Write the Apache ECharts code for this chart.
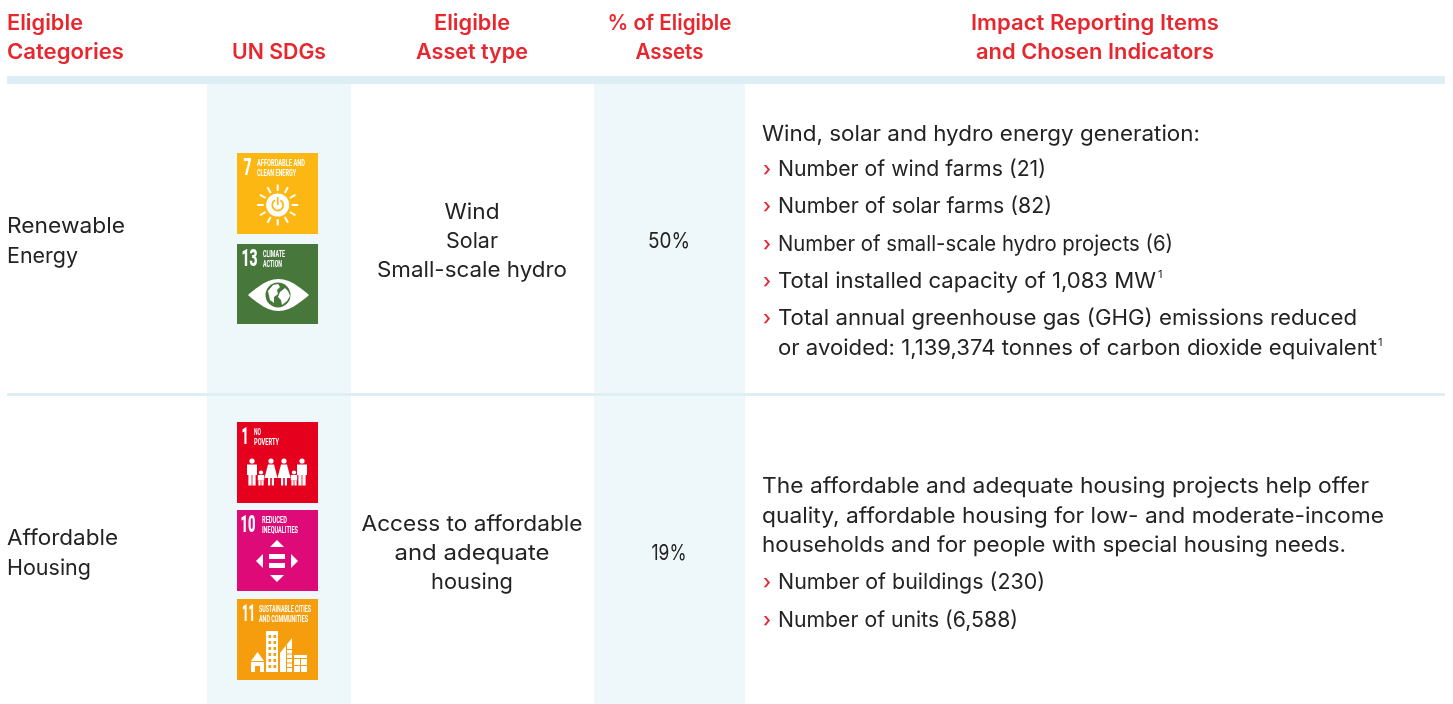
<!DOCTYPE html>
<html>
<head>
<meta charset="utf-8">
<title>Eligible categories</title>
<script src="https://cdn.jsdelivr.net/npm/echarts@6/dist/echarts.min.js"></script>
<style>
	html, body { margin: 0; background: #fff; }
	#chart { width: 1453px; height: 704px; }
</style>
</head>
<body>
<div id="chart"></div>
<script>
// Table content
const headers = [
	['Eligible', 'Categories'],
	['UN SDGs'],
	['Eligible', 'Asset type'],
	['% of Eligible', 'Assets'],
	['Impact Reporting Items', 'and Chosen Indicators'],
]
const categories = [['Renewable', 'Energy'], ['Affordable', 'Housing']]
const assetTypes = [['Wind', 'Solar', 'Small-scale hydro'], ['Access to affordable', 'and adequate', 'housing']]
const assetShares = ['50%', '19%']
const renewableIntro = ['Wind, solar and hydro energy generation:']
const renewableItems = [
	['Number of wind farms (21)'],
	['Number of solar farms (82)'],
	['Number of small-scale hydro projects (6)'],
	['Total installed capacity of 1,083 MW'],
	['Total annual greenhouse gas (GHG) emissions reduced', 'or avoided: 1,139,374 tonnes of carbon dioxide equivalent'],
]
const housingIntro = [
	'The affordable and adequate housing projects help offer',
	'quality, affordable housing for low- and moderate-income',
	'households and for people with special housing needs.',
]
const housingItems = [['Number of buildings (230)'], ['Number of units (6,588)']]
const sdgNumbers = ['7', '13', '1', '10', '11']
const sdgLabels = [
	['AFFORDABLE AND', 'CLEAN ENERGY'],
	['CLIMATE', 'ACTION'],
	['NO', 'POVERTY'],
	['REDUCED', 'INEQUALITIES'],
	['SUSTAINABLE CITIES', 'AND COMMUNITIES'],
]

const FONT = 'Inter, sans-serif'
const TILE_FONT = 'Roboto, sans-serif'
const RED = '#e8262e'
const INK = '#232323'
const BAND = '#eef7fa'
const RULE = '#deeef5'
const BODY_SIZE = 21.5

// Widths, the closest installed font runs wider or narrower line by line
const lineWidths = {
	'Eligible': 76, 'Categories': 117, 'UN SDGs': 94, 'Asset type': 112, '% of Eligible': 124, 'Assets': 68,
	'Impact Reporting Items': 248, 'and Chosen Indicators': 238,
	'Renewable': 118, 'Energy': 71, 'Affordable': 111, 'Housing': 84,
	'Wind': 55, 'Solar': 52, 'Small-scale hydro': 190, 'Access to affordable': 221, 'and adequate': 155, 'housing': 82,
	'50%': 42, '19%': 35,
	'Wind, solar and hydro energy generation:': 438,
	'Number of wind farms (21)': 268,
	'Number of solar farms (82)': 274,
	'Number of small-scale hydro projects (6)': 395,
	'Total installed capacity of 1,083 MW': 378,
	'Total annual greenhouse gas (GHG) emissions reduced': 579,
	'or avoided: 1,139,374 tonnes of carbon dioxide equivalent': 599,
	'The affordable and adequate housing projects help offer': 607,
	'quality, affordable housing for low- and moderate-income': 622,
	'households and for people with special housing needs.': 584,
	'Number of buildings (230)': 267,
	'Number of units (6,588)': 240,
	'7': 8, '13': 16, '1': 7, '10': 15, '11': 13,
	'AFFORDABLE AND': 48, 'CLEAN ENERGY': 39, 'CLIMATE': 22, 'ACTION': 19, 'NO': 7, 'POVERTY': 25,
	'REDUCED': 25, 'INEQUALITIES': 36, 'SUSTAINABLE CITIES': 52, 'AND COMMUNITIES': 49,
}

const ruler = document.createElement('canvas').getContext('2d')

const label = (text, x, y, opts = {}) => {
	const size = opts.size || BODY_SIZE
	const weight = opts.weight || 400
	const family = opts.family || FONT
	ruler.font = weight + ' ' + size + 'px ' + family
	const target = opts.fit === false ? null : lineWidths[text]
	return {
		type: 'text',
		x: x,
		y: y,
		scaleX: target ? target / ruler.measureText(text).width : 1,
		style: {
			text: text,
			fill: opts.fill || INK,
			fontFamily: family,
			fontSize: size,
			fontWeight: weight,
			align: opts.align || 'left',
			verticalAlign: 'middle',
		},
	}
}

const box = (x, y, width, height, fill) => ({
	type: 'rect',
	shape: { x: x, y: y, width: width, height: height },
	style: { fill: fill },
})

const dot = (cx, cy, r, fill) => ({ type: 'circle', shape: { cx: cx, cy: cy, r: r }, style: { fill: fill } })

const poly = (points, fill) => ({ type: 'polygon', shape: { points: points }, style: { fill: fill } })

// Icons drawn inside each 81px tile
const sunIcon = (color) => {
	const parts = []
	for (let i = 0; i < 12; i++) {
		const a = (i * Math.PI) / 6
		parts.push({
			type: 'line',
			shape: {
				x1: 40.7 + Math.cos(a) * 14,
				y1: 52 + Math.sin(a) * 14,
				x2: 40.7 + Math.cos(a) * 20.5,
				y2: 52 + Math.sin(a) * 20.5,
			},
			style: { stroke: '#fff', lineWidth: 2 },
		})
	}
	parts.push(dot(40.7, 52, 11.5, '#fff'))
	parts.push({
		type: 'arc',
		shape: { cx: 40.7, cy: 52, r: 5.5, startAngle: -Math.PI / 2 + 0.5, endAngle: -Math.PI / 2 - 0.5, clockwise: true },
		style: { stroke: color, lineWidth: 1.8, fill: 'none' },
	})
	parts.push(box(39.9, 44, 1.7, 8, color))
	return parts
}

const eyeOutline = () => {
	const top = []
	const bottom = []
	for (let i = 0; i <= 24; i++) {
		const t = i / 12 - 1
		const lift = 16 * (1 - t * t) * (1 + 0.25 * (1 - t * t))
		top.push([41.5 + t * 30.5, 51 - lift / 1.25])
		bottom.unshift([41.5 + t * 30.5, 51 + lift / 1.25])
	}
	return top.concat(bottom)
}

const eyeIcon = (color) => [
	poly(eyeOutline(), '#fff'),
	dot(41, 51, 12.5, color),
	poly([[31, 47], [36, 41], [41, 40], [43, 43], [40, 46], [41, 50], [37, 53], [37, 59], [33, 56]], '#fff'),
	poly([[43, 48], [48, 44], [51, 47], [53, 52], [50, 57], [45, 61], [44, 56], [41, 53]], '#fff'),
]

const adult = (x, fill) => [
	dot(x, 39, 2.6, fill),
	box(x - 5, 42.5, 10, 10.5, fill),
	box(x - 3.6, 53, 3.2, 10.5, fill),
	box(x + 0.4, 53, 3.2, 10.5, fill),
]
const woman = (x, fill) => [
	dot(x, 39, 2.6, fill),
	poly([[x - 3, 42.5], [x + 3, 42.5], [x + 6.5, 56], [x - 6.5, 56]], fill),
	box(x - 3, 56, 2.2, 7.5, fill),
	box(x + 0.8, 56, 2.2, 7.5, fill),
]
const child = (x, fill) => [
	dot(x, 50.5, 2.1, fill),
	box(x - 3.2, 53, 6.4, 5.5, fill),
	box(x - 2.6, 58.5, 2.2, 5, fill),
	box(x + 0.4, 58.5, 2.2, 5, fill),
]

const familyIcon = () => [
	...adult(15, '#fff'),
	...child(24, '#fff'),
	...woman(34, '#fff'),
	...woman(47, '#fff'),
	...child(57, '#fff'),
	...adult(65, '#fff'),
]

const equalityIcon = () => [
	poly([[40, 30], [47, 37], [33, 37]], '#fff'),
	poly([[40, 72], [47, 65], [33, 65]], '#fff'),
	poly([[19, 51], [26, 44], [26, 58]], '#fff'),
	poly([[61, 51], [54, 44], [54, 58]], '#fff'),
	box(32, 44, 16, 5, '#fff'),
	box(32, 53, 16, 5, '#fff'),
]

const cityIcon = (color) => {
	const parts = [
		poly([[20.5, 53], [27, 62], [14, 62]], '#fff'),
		box(14, 63, 13, 10, '#fff'),
		box(18, 67, 5, 6, color),
		box(29, 32, 12, 41, '#fff'),
		poly([[55, 39], [55, 73], [43, 73], [43, 54]], '#fff'),
		box(57, 56, 13, 17, '#fff'),
		box(57, 59, 13, 1, color),
		box(63, 60, 1, 13, color),
		box(57, 66, 13, 1, color),
	]
	for (let row = 0; row < 6; row++) {
		parts.push(box(31.5, 36 + row * 6, 2.6, 3, color))
		parts.push(box(36.5, 36 + row * 6, 2.6, 3, color))
	}
	for (let row = 0; row < 5; row++) {
		parts.push(box(49, 50 + row * 4.5, 6, 1, color))
	}
	parts.push(box(49, 46, 1, 27, color))
	return parts
}

const tileIcons = [sunIcon, eyeIcon, familyIcon, equalityIcon, cityIcon]
const tileColors = ['#fdb713', '#48773c', '#e5001e', '#dd0a78', '#f59d0c']
const tileTop = [153, 244, 422, 510, 599]
const tileNumX = [10.5, 12.5, 8, 11, 11.5]
const tileLabelX = [20, 26, 17, 25, 22]

const tile = (num, i) => {
	const color = tileColors[i]
	const small = { fill: '#fff', size: 9.5, weight: 700, family: TILE_FONT }
	return {
		type: 'group',
		x: 237,
		y: tileTop[i],
		children: [
			box(0, 0, 81, i === 1 ? 80 : 81, color),
			label(num, tileNumX[i], 16, { fill: '#fff', size: 23, weight: 900, align: 'center', family: TILE_FONT }),
			label(sdgLabels[i][0], tileLabelX[i], 10.8, small),
			label(sdgLabels[i][1], tileLabelX[i], 20.3, small),
			...tileIcons[i](color),
		],
	}
}

const column = (lines, x, ys, opts) => lines.map((line, i) => label(line, x, ys[i], opts))

const bullets = (items, ys) => {
	const out = []
	let row = 0
	items.forEach((lines) => {
		out.push(label('\u203A', 763, ys[row], { fill: RED, weight: 500, size: 20 }))
		lines.forEach((line) => {
			out.push(label(line, 778, ys[row]))
			row++
		})
	})
	return out
}

const headerOpts = { fill: RED, size: 21, weight: 600 }
const centerHead = { ...headerOpts, align: 'center' }

const elements = [
	// Shaded columns and rules
	box(207, 84, 144, 620, BAND),
	box(594, 84, 151, 620, BAND),
	box(7, 76, 1438, 8, RULE),
	box(7, 393, 1438, 3, RULE),

	// Header row
	...column(headers[0], 7, [24, 53], headerOpts),
	label(headers[1][0], 279, 53, centerHead),
	...column(headers[2], 472, [24, 53], centerHead),
	...column(headers[3], 669.5, [24, 53], centerHead),
	...column(headers[4], 1095, [24, 53], centerHead),

	// Renewable energy row
	...column(categories[0], 7, [227, 257]),
	...column(assetTypes[0], 472, [213, 242, 271], { align: 'center' }),
	label(assetShares[0], 669, 242, { align: 'center' }),
	...column(renewableIntro, 762, [135]),
	...bullets(renewableItems, [170, 207, 245, 282, 319, 349]),
	label('1', 1158, 275, { size: 11, fit: false }),
	label('1', 1378, 343, { size: 11, fit: false }),

	// Affordable housing row
	...column(categories[1], 7, [539, 569]),
	...column(assetTypes[1], 472, [525, 554, 583], { align: 'center' }),
	label(assetShares[1], 669, 554, { align: 'center' }),
	...column(housingIntro, 762, [487, 517, 546]),
	...bullets(housingItems, [583, 621]),

	// SDG tiles
	...sdgNumbers.map(tile),
]

const chart = echarts.init(document.getElementById('chart'))
chart.setOption({
	animation: false,
	backgroundColor: '#fff',
	graphic: { elements: elements },
})
</script>
</body>
</html>
